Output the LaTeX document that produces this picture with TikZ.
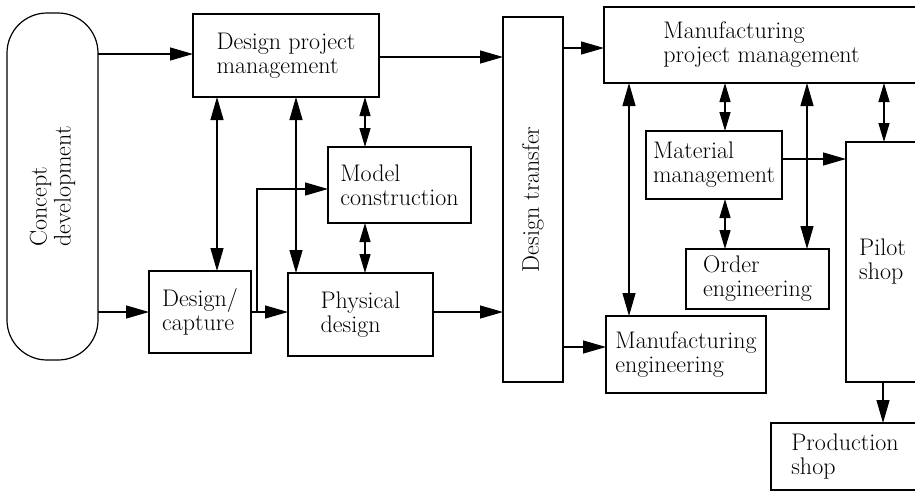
\documentclass[tikz,border=0pt]{standalone}
\usepackage{fontspec}
\usetikzlibrary{arrows.meta}
\tikzset{
  box/.style={draw, line width=1.2pt, inner sep=0pt, outer sep=0pt, align=left},
  lbl/.style={inner sep=0pt, outer sep=0pt, align=left},
  arr/.style={line width=1.2pt, -{Triangle[length=23pt,width=13pt]}},
  darr/.style={line width=1.2pt, {Triangle[length=23pt,width=13pt]}-{Triangle[length=23pt,width=13pt]}},
  sdarr/.style={line width=1.2pt, {Triangle[length=19pt,width=11pt]}-{Triangle[length=19pt,width=11pt]}}
}
\begin{document}
\begin{tikzpicture}[x=1pt,y=-1pt,font=\fontsize{24}{24}\selectfont]
\useasboundingbox (0,0) rectangle (915,491);
\clip (0,0) rectangle (915,491);
% nodes
\node[box, rounded corners=40pt, minimum width=91pt, minimum height=347pt] (concept) at (52.5,186.5) {};
\node[lbl, rotate=90] (concepttxt) at (concept.center) {Concept\\development};
\node[box, minimum width=186pt, minimum height=83pt] (dpm) at (286,55.5) {Design project\\management};
\node[box, minimum width=102pt, minimum height=82pt] (dc) at (200,312) {Design/\\capture};
\node[box, minimum width=143pt, minimum height=76pt] (mc) at (399.5,185) {Model\\construction};
\node[box, minimum width=145pt, minimum height=83pt] (pd) at (360.5,314.5) {Physical\\design};
\node[box, minimum width=60pt, minimum height=365pt] (dt) at (533,199.5) {};
\node[lbl, rotate=90] (dttxt) at (dt.center) {Design transfer};
\node[box, minimum width=315pt, minimum height=76pt] (mpm) at (761.5,45) {Manufacturing\\project management};
\node[box, minimum width=136pt, minimum height=68pt] (mm) at (714,165) {Material\\management};
\node[box, minimum width=143pt, minimum height=60pt] (oe) at (757.5,279) {Order\\engineering};
\node[box, minimum width=160pt, minimum height=77pt] (me) at (686,354.5) {Manufacturing\\engineering};
\node[box, minimum width=73pt, minimum height=240pt] (pilot) at (882.5,262) {Pilot\\shop};
\node[box, minimum width=148pt, minimum height=67pt] (ps) at (845,456.5) {Production\\shop};
% connectors
\draw[arr] (concept.east |- 0,54) -- (dpm.west |- 0,54);
\draw[arr] (concept.east |- dc.west) -- (dc.west);
\draw[darr] (217,0 |- dpm.south) -- (217,0 |- dc.north);
\draw[darr] (296,0 |- dpm.south) -- (296,0 |- pd.north);
\draw[sdarr] (365,0 |- dpm.south) -- (365,0 |- mc.north);
\draw[sdarr] (365,0 |- mc.south) -- (365,0 |- pd.north);
\draw[arr] (dc.east) -- (dc.east -| pd.west);
\coordinate (br) at (257,312);
\draw[arr] (br) |- (mc.west |- 0,189);
\draw[arr] (pd.east |- 0,312) -- (dt.west |- 0,312);
\draw[arr] (dpm.east |- 0,57) -- (dt.west |- 0,57);
\draw[arr] (dt.east |- 0,48) -- (mpm.west |- 0,48);
\draw[arr] (dt.east |- 0,347) -- (me.west |- 0,347);
\draw[darr] (629,0 |- mpm.south) -- (629,0 |- me.north);
\draw[sdarr] (725,0 |- mpm.south) -- (725,0 |- mm.north);
\draw[sdarr] (725,0 |- mm.south) -- (725,0 |- oe.north);
\draw[darr] (807,0 |- mpm.south) -- (807,0 |- oe.north);
\draw[arr] (mm.east |- 0,159) -- (pilot.west |- 0,159);
\draw[sdarr] (884,0 |- mpm.south) -- (884,0 |- pilot.north);
\draw[arr] (883,0 |- pilot.south) -- (883,0 |- ps.north);
\end{tikzpicture}
\end{document}
